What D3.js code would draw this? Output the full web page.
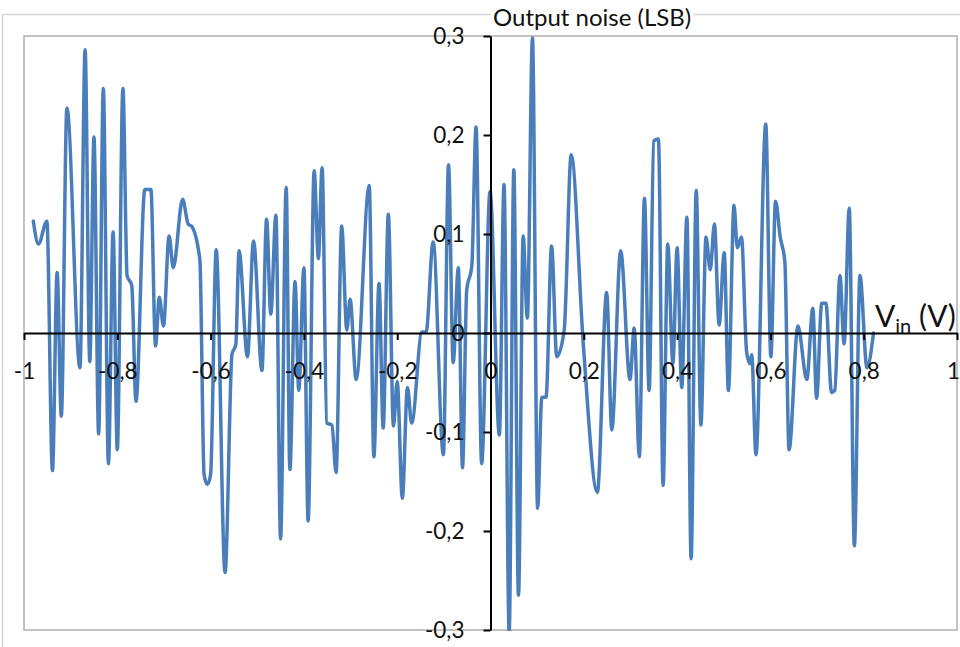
<!DOCTYPE html>
<html>
<head>
<meta charset="utf-8">
<script src="https://cdn.jsdelivr.net/npm/d3@7"></script>
<style>
  body { margin: 0; background: #fff; }
  svg { display: block; }
  text { font-family: Lato, "Open Sans", sans-serif; fill: #111; }
</style>
</head>
<body>
<svg id="chart" width="960" height="647"></svg>
<script>
// Input voltage (V) at each sample of the smoothed noise trace
const vin = [
  -0.980, -0.969, -0.951, -0.939, -0.929, -0.920, -0.908, -0.880, -0.869, -0.859,
  -0.850, -0.840, -0.830, -0.819, -0.809, -0.800, -0.788, -0.779, -0.769, -0.760,
  -0.741, -0.728, -0.718, -0.710, -0.701, -0.689, -0.680, -0.660, -0.648, -0.641,
  -0.623, -0.614, -0.607, -0.600, -0.588, -0.569, -0.554, -0.546, -0.539, -0.521,
  -0.508, -0.490, -0.480, -0.471, -0.460, -0.450, -0.438, -0.430, -0.419, -0.411,
  -0.400, -0.391, -0.378, -0.369, -0.361, -0.351, -0.340, -0.331, -0.319, -0.308,
  -0.301, -0.288, -0.260, -0.250, -0.239, -0.230, -0.219, -0.208, -0.200, -0.189,
  -0.178, -0.169, -0.147, -0.138, -0.123, -0.101, -0.090, -0.080, -0.069, -0.060,
  -0.051, -0.040, -0.031, -0.019, -0.001, 0.019, 0.029, 0.040, 0.050, 0.060,
  0.070, 0.079, 0.090, 0.101, 0.110, 0.119, 0.131, 0.142, 0.158, 0.173,
  0.199, 0.229, 0.249, 0.260, 0.279, 0.299, 0.308, 0.319, 0.330, 0.340,
  0.350, 0.360, 0.370, 0.380, 0.391, 0.400, 0.410, 0.421, 0.430, 0.441,
  0.451, 0.462, 0.471, 0.480, 0.490, 0.501, 0.510, 0.522, 0.529, 0.538,
  0.549, 0.556, 0.560, 0.569, 0.590, 0.601, 0.611, 0.621, 0.631, 0.640,
  0.659, 0.678, 0.691, 0.699, 0.710, 0.719, 0.731, 0.738, 0.749, 0.758,
  0.769, 0.780, 0.792, 0.807, 0.821
];

// Output noise (LSB) at each input voltage above
const noise = [
  0.113, 0.090, 0.113, -0.139, 0.061, -0.084, 0.227, -0.035, 0.286, -0.029,
  0.198, -0.102, 0.247, -0.132, 0.102, -0.118, 0.247, 0.058, 0.048, -0.069,
  0.145, 0.145, -0.013, 0.036, 0.007, 0.098, 0.066, 0.135, 0.110, 0.108,
  0.074, -0.143, -0.153, -0.143, 0.084, -0.242, -0.021, -0.012, 0.083, -0.024,
  0.093, -0.038, 0.115, 0.019, 0.119, -0.208, 0.147, -0.138, 0.052, -0.058,
  0.066, -0.190, 0.164, 0.075, 0.167, -0.091, -0.093, -0.141, 0.108, 0.003,
  0.034, -0.047, 0.149, -0.125, 0.050, -0.096, 0.120, -0.094, -0.049, -0.167,
  -0.055, -0.091, 0.001, 0.001, 0.092, -0.123, 0.170, -0.030, 0.066, -0.136,
  0.043, 0.068, 0.208, -0.132, 0.143, -0.103, 0.150, -0.302, 0.165, -0.265,
  0.098, 0.015, 0.298, -0.177, -0.065, -0.065, 0.088, -0.024, 0.003, 0.180,
  -0.012, -0.161, 0.041, -0.098, 0.083, -0.047, 0.005, -0.125, 0.136, -0.058,
  0.194, 0.196, -0.154, 0.090, -0.031, 0.086, -0.055, 0.117, -0.228, 0.144,
  -0.093, 0.097, 0.064, 0.110, 0.008, 0.081, -0.058, 0.129, 0.086, 0.097,
  -0.019, -0.031, -0.022, -0.123, 0.211, -0.024, 0.133, 0.097, 0.072, -0.118,
  0.007, -0.047, 0.025, -0.066, 0.030, 0.030, -0.060, -0.058, 0.058, -0.011,
  0.126, -0.215, 0.058, -0.035, 0.000
];

// Axis ticks and their labels (decimal comma)
const xTicks = [-1, -0.8, -0.6, -0.4, -0.2, 0, 0.2, 0.4, 0.6, 0.8, 1];
const xTickLabels = ["-1", "-0,8", "-0,6", "-0,4", "-0,2", "0", "0,2", "0,4", "0,6", "0,8", "1"];
const yTicks = [-0.3, -0.2, -0.1, 0, 0.1, 0.2, 0.3];
const yTickLabels = ["-0,3", "-0,2", "-0,1", "0", "0,1", "0,2", "0,3"];

const yTitle = "Output noise (LSB)";

const svg = d3.select("#chart");
const plot = { left: 24, right: 957, top: 36, bottom: 630 };

const x = d3.scaleLinear().domain([-1, 1]).range([plot.left, plot.right]);
const y = d3.scaleLinear().domain([-0.3, 0.3]).range([plot.bottom, plot.top]);

// Chart area frame
svg.append("rect")
  .attr("x", 2.5).attr("y", 14.5)
  .attr("width", 1000).attr("height", 700)
  .attr("fill", "none").attr("stroke", "#d6d6d6").attr("stroke-width", 1.5);

// Plot area frame
svg.append("rect")
  .attr("x", plot.left).attr("y", plot.top)
  .attr("width", plot.right - plot.left).attr("height", plot.bottom - plot.top)
  .attr("fill", "#fff").attr("stroke", "#b4b4b4").attr("stroke-width", 1.6);

svg.append("clipPath").attr("id", "plotClip")
  .append("rect")
  .attr("x", plot.left).attr("y", plot.top - 1)
  .attr("width", plot.right - plot.left).attr("height", plot.bottom - plot.top + 2);

// Axes crossing at the origin
const yAxis = d3.axisLeft(y)
  .tickValues(yTicks)
  .tickFormat((d, i) => yTickLabels[i])
  .tickSizeInner(7).tickSizeOuter(0).tickPadding(19);

const xAxis = d3.axisBottom(x)
  .tickValues(xTicks)
  .tickFormat((d, i) => xTickLabels[i])
  .tickSizeInner(7).tickSizeOuter(0).tickPadding(23);

const gy = svg.append("g").attr("transform", `translate(${x(0)},0)`).call(yAxis);
const gx = svg.append("g").attr("transform", `translate(0,${y(0)})`).call(xAxis);

[gx, gy].forEach(g => {
  g.select(".domain").attr("stroke", "#000").attr("stroke-width", 2);
  g.selectAll(".tick line").attr("stroke", "#000").attr("stroke-width", 2);
  g.selectAll(".tick text")
    .attr("font-family", "Lato, 'Open Sans', sans-serif")
    .attr("font-size", 22.5)
    .attr("fill", "#111");
});

// The last label sits against the right edge of the chart
gx.selectAll(".tick text")
  .filter(d => d === 1)
  .attr("text-anchor", "end")
  .attr("x", 2.5);

// Noise trace
const points = vin.map((v, i) => [v, noise[i]]);
const line = d3.line()
  .x(d => x(d[0]))
  .y(d => y(d[1]))
  .curve(d3.curveMonotoneX);

svg.append("path")
  .datum(points)
  .attr("clip-path", "url(#plotClip)")
  .attr("d", line)
  .attr("fill", "none")
  .attr("stroke", "#4a7ebb")
  .attr("stroke-width", 3.5)
  .attr("stroke-linejoin", "round")
  .attr("stroke-linecap", "round");

// Keep tick labels above the trace
gx.raise();
gy.raise();
gx.select(".domain").lower();
gy.select(".domain").lower();

// Vertical axis title, on a white patch over the chart frame
const title = svg.append("g");
const tText = title.append("text")
  .attr("x", 493).attr("y", 26)
  .attr("font-size", 24)
  .text(yTitle);
const bb = tText.node().getBBox();
title.insert("rect", "text")
  .attr("x", bb.x - 2).attr("y", bb.y)
  .attr("width", bb.width + 4).attr("height", bb.height)
  .attr("fill", "#fff");

// Horizontal axis title: V with subscript "in"
const vt = svg.append("text")
  .attr("x", 875).attr("y", 327)
  .attr("font-size", 30);
vt.append("tspan").text("V");
vt.append("tspan").attr("font-size", 20).attr("dy", 6).text("in");
vt.append("tspan").attr("dy", -6).text(" (V)");
</script>
</body>
</html>
